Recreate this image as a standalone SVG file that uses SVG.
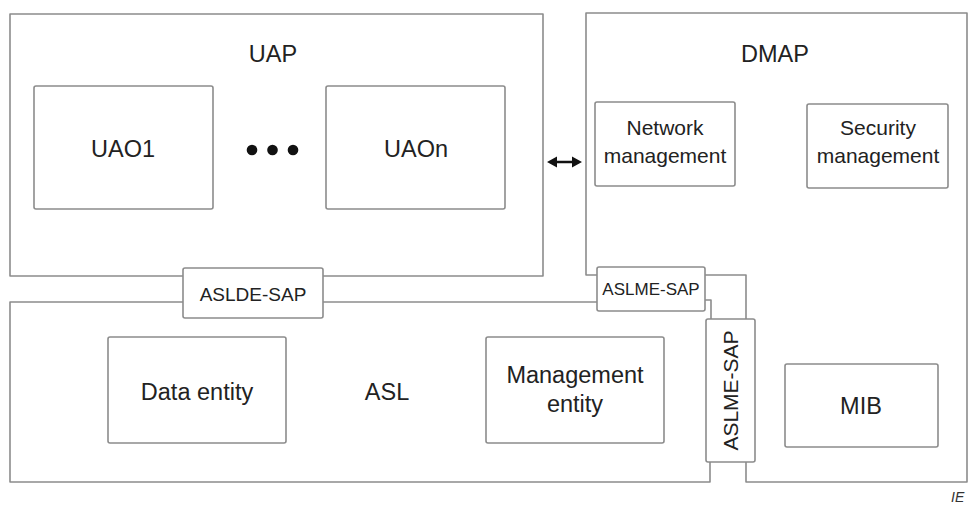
<svg xmlns="http://www.w3.org/2000/svg" width="968" height="505" viewBox="0 0 968 505">
  <style>
    .frame { fill: none; stroke: #8c8c8c; stroke-width: 1.6; stroke-linejoin: round; }
    .box { fill: #ffffff; stroke: #8c8c8c; stroke-width: 1.6; }
    .lbl { font-family: "Liberation Sans", Arial, sans-serif; fill: #222222; text-anchor: middle; }
    .big { font-size: 23.5px; }
    .mid { font-size: 21px; }
    .sap { font-size: 17px; }
  </style>
  <rect width="968" height="505" fill="#ffffff"/>

  <!-- Application process UAP -->
  <g id="uap">
    <path class="frame" d="M183 276 H10 V14 H543 V276 H323"/>
    <text class="lbl big" x="273" y="62">UAP</text>
  </g>
  <g id="uao1">
    <rect class="box" x="34" y="86" width="179" height="123" rx="2"/>
    <text class="lbl big" x="123" y="157">UAO1</text>
  </g>
  <g id="ellipsis">
    <circle cx="252" cy="150" r="5.3" fill="#111"/>
    <circle cx="272.5" cy="150" r="5.3" fill="#111"/>
    <circle cx="293" cy="150" r="5.3" fill="#111"/>
  </g>
  <g id="uaon">
    <rect class="box" x="326" y="86" width="179" height="123" rx="2"/>
    <text class="lbl big" x="416" y="157">UAOn</text>
  </g>

  <!-- Device management process DMAP -->
  <g id="dmap">
    <path class="frame" d="M597 275 H586 V13 H967 V482 H746 V462"/>
    <path class="frame" d="M746 319 V275 H705"/>
    <text class="lbl big" x="775" y="62">DMAP</text>
  </g>
  <g id="network-management">
    <rect class="box" x="595" y="102" width="140" height="84" rx="2"/>
    <text class="lbl mid" x="665" y="135">Network</text>
    <text class="lbl mid" x="665" y="163">management</text>
  </g>
  <g id="security-management">
    <rect class="box" x="807" y="104" width="141" height="84" rx="2"/>
    <text class="lbl mid" x="878" y="135">Security</text>
    <text class="lbl mid" x="878" y="163">management</text>
  </g>
  <g id="mib">
    <rect class="box" x="785" y="364" width="153" height="83" rx="2"/>
    <text class="lbl big" x="861" y="414">MIB</text>
  </g>

  <!-- Application sub-layer ASL -->
  <g id="asl">
    <path class="frame" d="M183 302 H10 V482 H710 V462"/>
    <path class="frame" d="M323 302 H597"/>
    <path class="frame" d="M705 300 H711 V319"/>
    <text class="lbl big" x="387" y="400">ASL</text>
  </g>
  <g id="data-entity">
    <rect class="box" x="108" y="337" width="178" height="106" rx="2"/>
    <text class="lbl big" x="197" y="400">Data entity</text>
  </g>
  <g id="management-entity">
    <rect class="box" x="486" y="337" width="178" height="106" rx="2"/>
    <text class="lbl big" x="575" y="383">Management</text>
    <text class="lbl big" x="575" y="412">entity</text>
  </g>

  <!-- Service access points -->
  <g id="aslde-sap">
    <rect class="box" x="183" y="268" width="140" height="50" rx="2"/>
    <text class="lbl" style="font-size:19px" x="253" y="301">ASLDE-SAP</text>
  </g>
  <g id="aslme-sap-dmap">
    <rect class="box" x="597" y="267" width="108" height="44" rx="2"/>
    <text class="lbl sap" x="651" y="295">ASLME-SAP</text>
  </g>
  <g id="aslme-sap-mib">
    <rect class="box" x="706" y="319" width="49" height="143" rx="2"/>
    <text class="lbl" style="font-size:21px" transform="translate(738 390.5) rotate(-90)" x="0" y="0">ASLME-SAP</text>
  </g>

  <!-- Connectors -->
  <g id="connectors">
    <path d="M547 162 L557 156.5 L557 160.8 L572 160.8 L572 156.5 L582 162 L572 167.5 L572 163.2 L557 163.2 L557 167.5 Z" fill="#111"/>
  </g>

  <text x="951" y="502" style="font-family:'Liberation Sans', Arial, sans-serif; font-size:14px; font-style:italic; fill:#333">IE</text>
</svg>
